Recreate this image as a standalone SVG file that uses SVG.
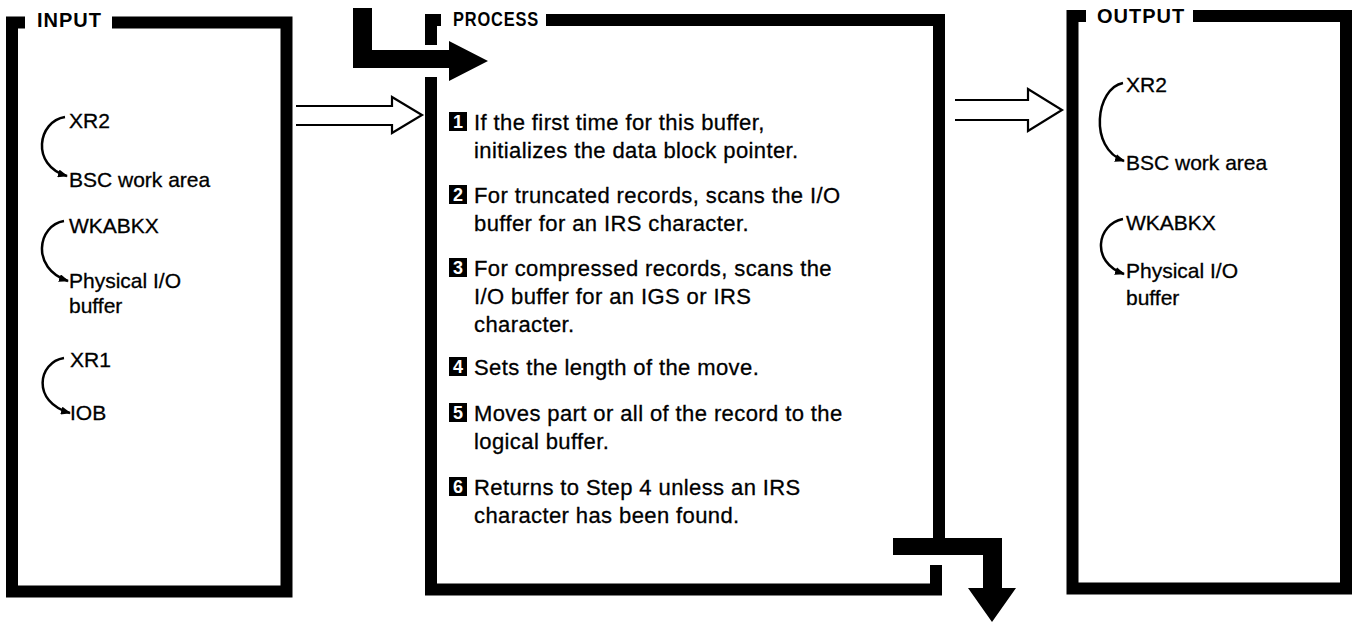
<svg xmlns="http://www.w3.org/2000/svg" width="1357" height="624" viewBox="0 0 1357 624">
<defs>
<style>
.frame{fill:none;stroke:#000;stroke-width:12;stroke-linejoin:miter;stroke-linecap:butt}
.title{font-family:"Liberation Sans",Arial,sans-serif;font-weight:bold;font-size:20px;letter-spacing:1px;fill:#000}
.lbl{font-family:"Liberation Sans",Arial,sans-serif;font-size:21px;fill:#000;stroke:#000;stroke-width:0.3}
.step{font-family:"Liberation Sans",Arial,sans-serif;font-size:22px;letter-spacing:0.4px;fill:#000;stroke:#000;stroke-width:0.3}
.num{font-family:"Liberation Sans",Arial,sans-serif;font-weight:bold;font-size:18px;fill:#fff;text-anchor:middle}
.nbox{fill:#000}
.arc{fill:none;stroke:#000;stroke-width:2.5;marker-end:url(#ah)}
.hollow{fill:none;stroke:#000;stroke-width:2.2;stroke-linejoin:miter}
.solid{fill:#000;stroke:none}
</style>
<marker id="ah" markerWidth="10" markerHeight="8" refX="9" refY="4" orient="auto" markerUnits="userSpaceOnUse"><path d="M0,0 L10,4 L0,8 z" fill="#000"/></marker>
</defs>
<rect width="1357" height="624" fill="#fff"/>

<g id="input">
<path class="frame" d="M25,22.5 H12 V591.5 H286.5 V22.5 H112"/>
<text class="title" x="37" y="27">INPUT</text>
<path class="arc" d="M65,117 C38,121 30,165 67,176"/>
<text class="lbl" x="69" y="128">XR2</text>
<text class="lbl" x="69" y="187">BSC work area</text>
<path class="arc" d="M64,221 C38,225 30,268 68,281"/>
<text class="lbl" x="69" y="233">WKABKX</text>
<text class="lbl" x="69" y="288">Physical I/O</text>
<text class="lbl" x="69" y="313">buffer</text>
<path class="arc" d="M64,358 C38,362 31,402 70,413"/>
<text class="lbl" x="70" y="367">XR1</text>
<text class="lbl" x="70" y="420">IOB</text>
</g>

<g id="process">
<path class="frame" d="M441,20 H431 V45"/>
<path class="frame" d="M431,77 V589.5 H936 V565"/>
<path class="frame" d="M546,20 H939 V538"/>
<text class="title" x="453" y="26" textLength="86" lengthAdjust="spacingAndGlyphs">PROCESS</text>

<rect class="nbox" x="449" y="112" width="18" height="19"/>
<text class="num" x="458" y="128">1</text>
<text class="step" x="474" y="130">If the first time for this buffer,</text>
<text class="step" x="474" y="158">initializes the data block pointer.</text>

<rect class="nbox" x="449" y="185" width="18" height="19"/>
<text class="num" x="458" y="201">2</text>
<text class="step" x="474" y="203">For truncated records, scans the I/O</text>
<text class="step" x="474" y="231">buffer for an IRS character.</text>

<rect class="nbox" x="449" y="258" width="18" height="19"/>
<text class="num" x="458" y="274">3</text>
<text class="step" x="474" y="276">For compressed records, scans the</text>
<text class="step" x="474" y="304">I/O buffer for an IGS or IRS</text>
<text class="step" x="474" y="332">character.</text>

<rect class="nbox" x="449" y="357" width="18" height="19"/>
<text class="num" x="458" y="373">4</text>
<text class="step" x="474" y="375">Sets the length of the move.</text>

<rect class="nbox" x="449" y="403" width="18" height="19"/>
<text class="num" x="458" y="419">5</text>
<text class="step" x="474" y="421">Moves part or all of the record to the</text>
<text class="step" x="474" y="449">logical buffer.</text>

<rect class="nbox" x="449" y="477" width="18" height="19"/>
<text class="num" x="458" y="493">6</text>
<text class="step" x="474" y="495">Returns to Step 4 unless an IRS</text>
<text class="step" x="474" y="523">character has been found.</text>
</g>

<g id="output">
<path class="frame" d="M1086,16 H1072.5 V588.5 H1346 V16 H1193"/>
<text class="title" x="1097" y="23">OUTPUT</text>
<path class="arc" d="M1123,83 C1096,88 1088,148 1124,161"/>
<text class="lbl" x="1126" y="92">XR2</text>
<text class="lbl" x="1126" y="170">BSC work area</text>
<path class="arc" d="M1123,219 C1097,224 1090,262 1124,274"/>
<text class="lbl" x="1126" y="230">WKABKX</text>
<text class="lbl" x="1126" y="278">Physical I/O</text>
<text class="lbl" x="1126" y="305">buffer</text>
</g>

<g id="connectors">
<polyline class="hollow" points="296,106 392,106 392,97 422,115 392,133 392,125 296,125"/>
<polyline class="hollow" points="955,100 1028,100 1028,89 1062,110 1028,131 1028,120 955,120"/>
<path class="solid" d="M353,8 H372 V50 H449 V41 L488,61 L449,81 V68 H353 Z"/>
<path class="solid" d="M893,538 H1002 V588 H1016 L992,622 L968,588 H983 V555 H893 Z"/>
</g>
</svg>
